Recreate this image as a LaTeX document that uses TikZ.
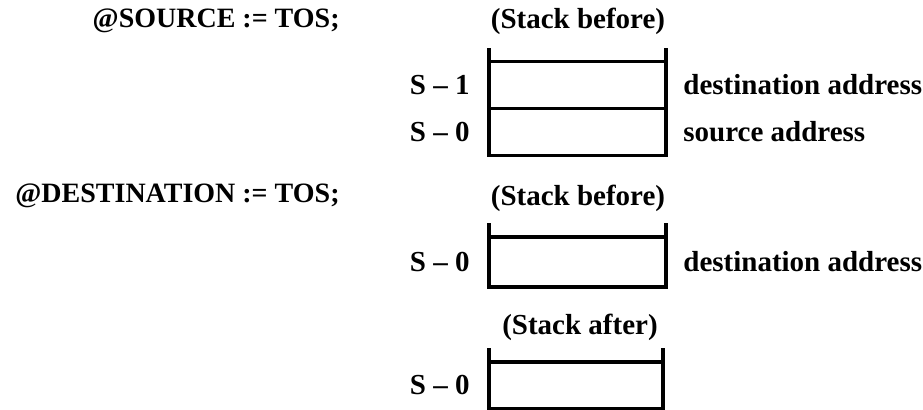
\documentclass[tikz,border=0pt]{standalone}
\usepackage{fontspec}
\setmainfont{Liberation Serif}
\usepackage{tikz}
\usetikzlibrary{positioning}

\tikzset{
    txt/.style={inner sep=0pt, font=\fontsize{14.5}{17}\selectfont\bfseries},
    cmd/.style={txt, font=\fontsize{14}{17}\selectfont\bfseries, anchor=east},
    cell/.style={draw, line width=1.6pt, inner sep=0pt, outer sep=0pt,
                 minimum width=88.5pt},
    lip/.style={line width=1.8pt}
}

\begin{document}
\begin{tikzpicture}[x=0.5pt, y=-0.5pt]
\useasboundingbox (0,0) rectangle (923,410);

% operations
\node[cmd] (src) at (340,21) {@SOURCE := TOS;};
\node[cmd] (dst) at (340,196) {@DESTINATION := TOS;};

% first stack
\node[txt] (hdrA) at (578,21) {(Stack before)};
\node[cell, minimum height=23.25pt] (a1) at (577.5,85) {};
\node[cell, minimum height=23.5pt, below=0pt of a1] (a0) {};
\node[txt, left=9.5pt of a1] (sa1) {S -- 1};
\node[txt, left=9.5pt of a0] (sa0) {S -- 0};
\node[txt, right=8.5pt of a1, anchor=west] (da) {destination address};
\node[txt, right=8.5pt of a0, anchor=west] (sa) {source address};

% second stack
\node[txt] (hdrB) at (578,198) {(Stack before)};
\node[cell, minimum height=25pt] (b0) at (577.5,262) {};
\node[txt, left=9.5pt of b0] (sb0) {S -- 0};
\node[txt, right=8.5pt of b0, anchor=west] (db) {destination address};

% stack after
\node[txt] (hdrC) at (580,327) {(Stack after)};
\node[cell, minimum height=23.5pt, minimum width=87pt] (c0) at (576,385.5) {};
\node[txt, left=9.5pt of c0] (sc0) {S -- 0};

% open tops
\foreach \c in {a1,b0,c0}{
    \draw[lip] (\c.north west) -- ++(0,-14);
    \draw[lip] (\c.north east) -- ++(0,-14);
}

\end{tikzpicture}
\end{document}
